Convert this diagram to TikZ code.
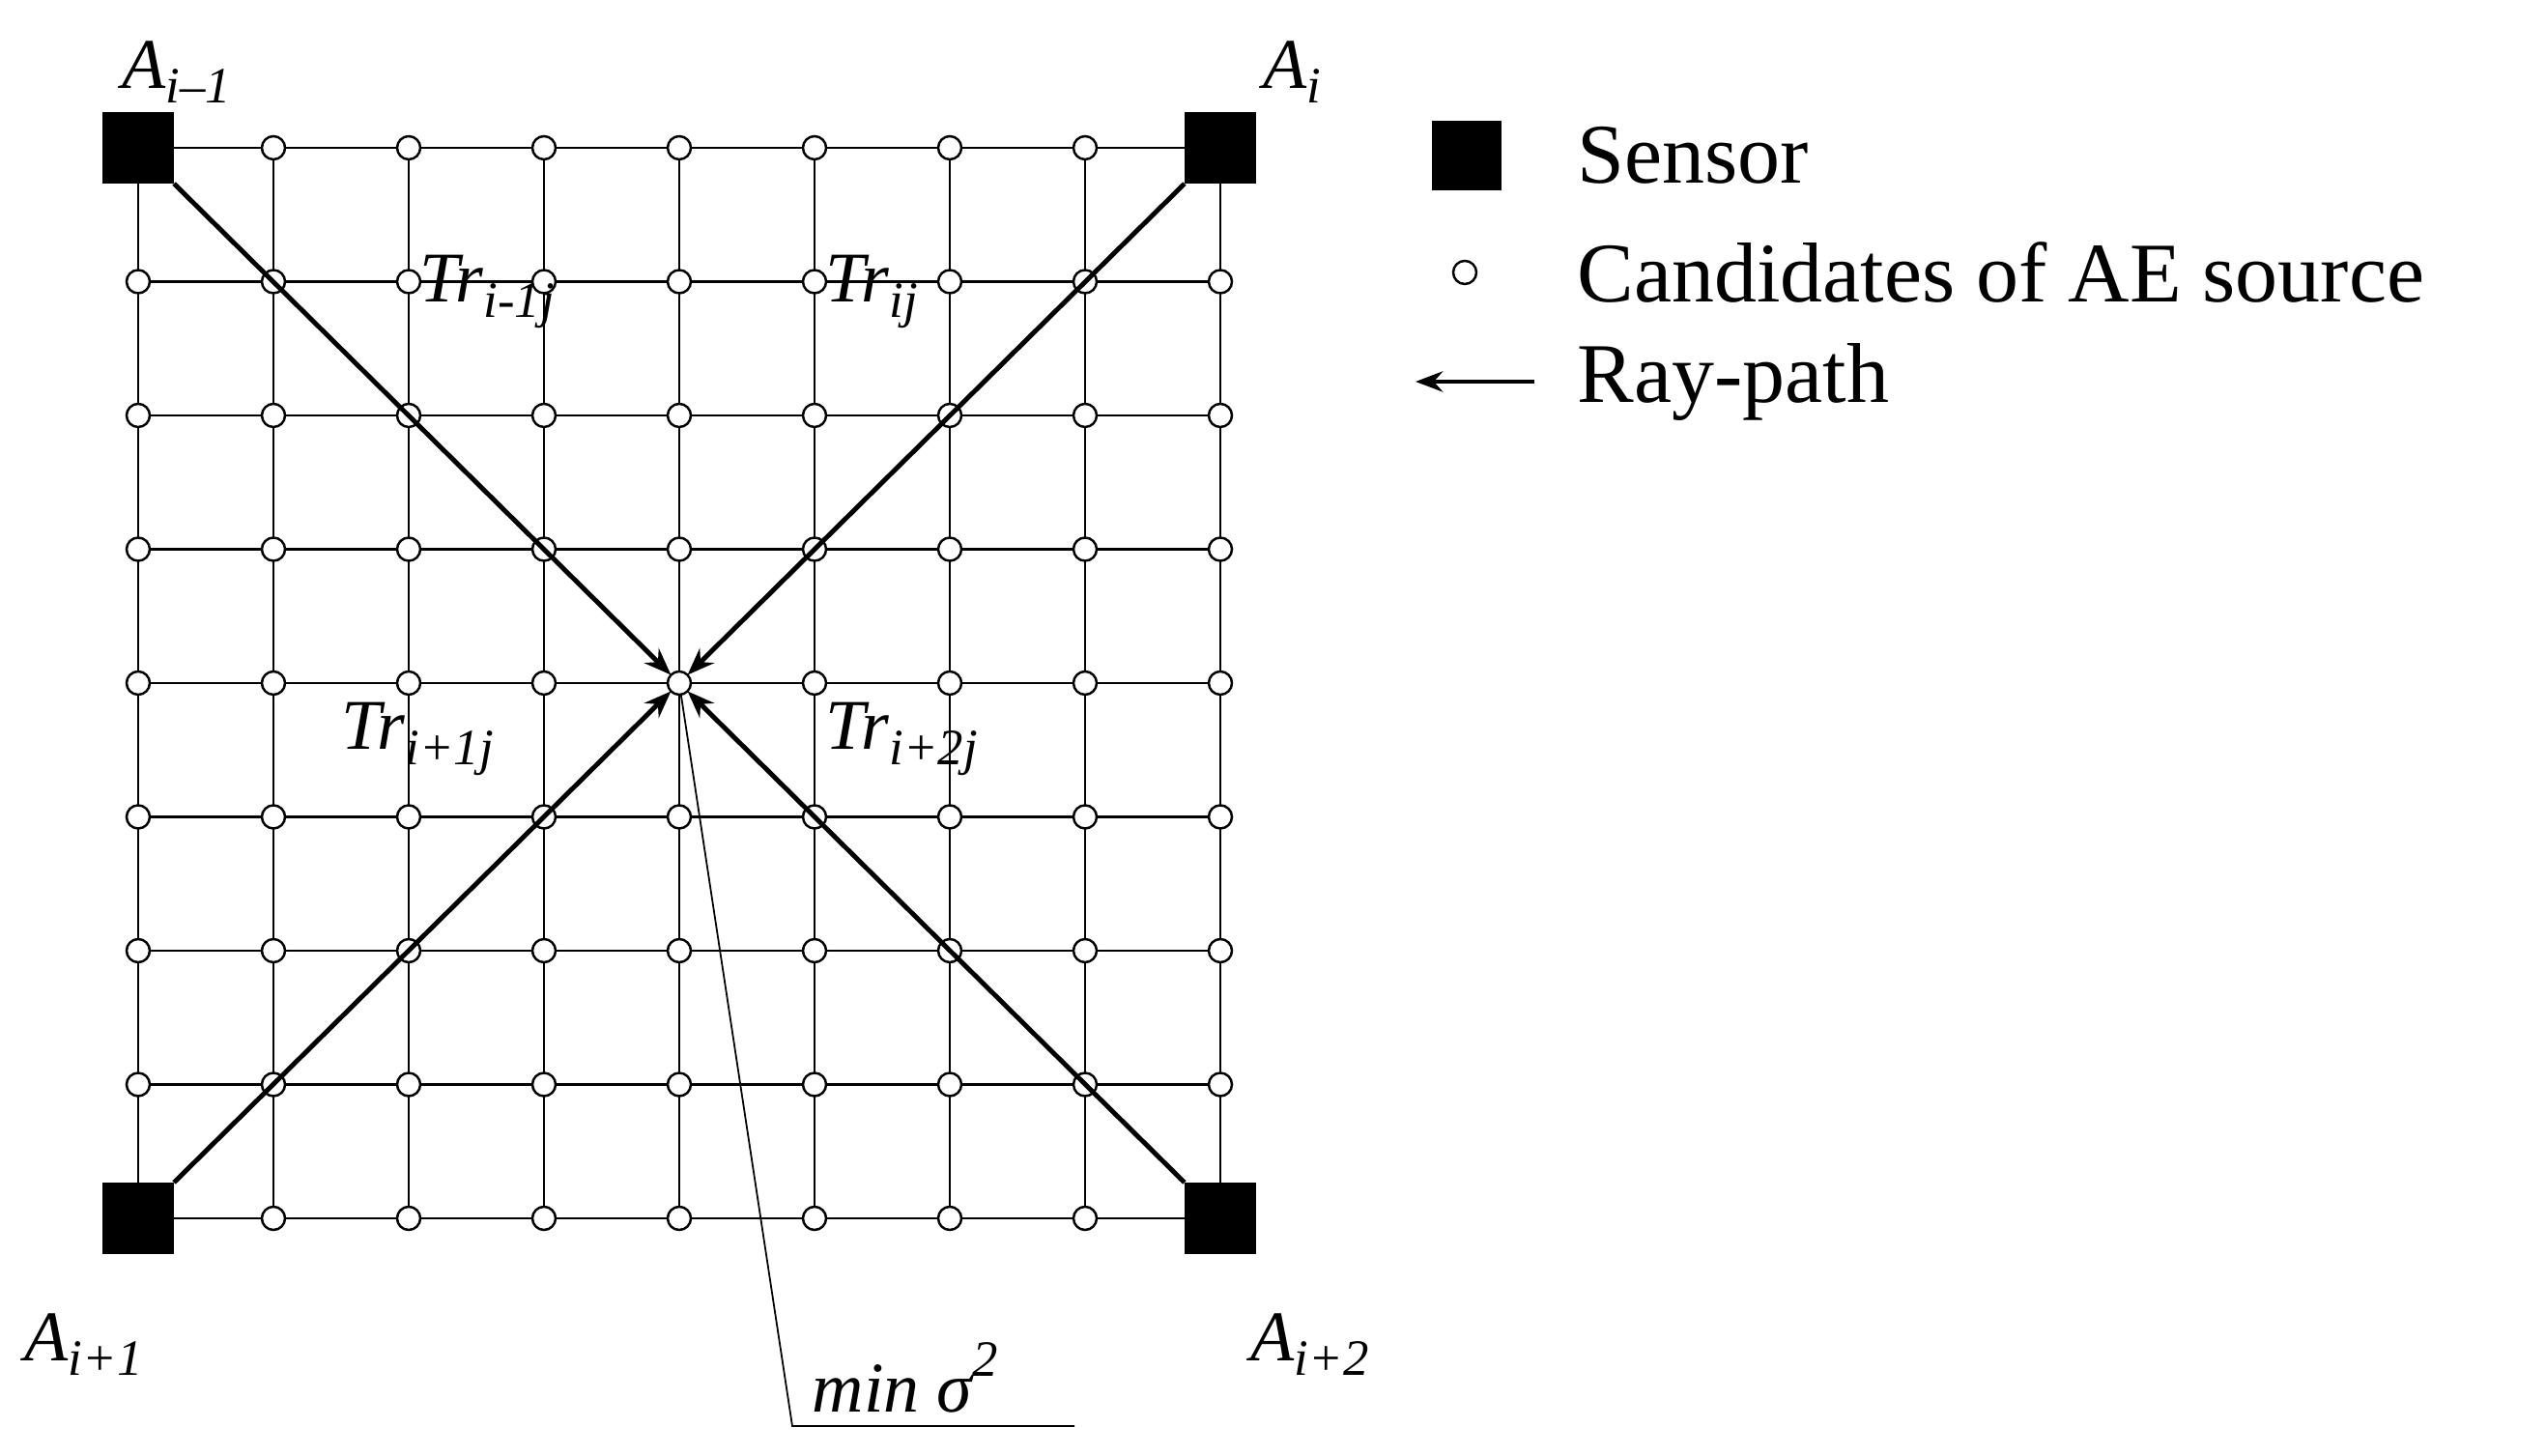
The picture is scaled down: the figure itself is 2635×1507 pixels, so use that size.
\documentclass[tikz,border=0pt]{standalone}
\usepackage{fontspec}
\setmainfont{Liberation Serif}
\usetikzlibrary{arrows.meta}
\newcommand\mysub[1]{\raisebox{-0.45ex}{\fontsize{15}{15}\selectfont #1}}
\begin{document}
\begin{tikzpicture}[x=0.01cm,y=-0.01cm,
  cand/.style={circle,draw,line width=0.7pt,fill=white,minimum size=0.24cm,inner sep=0,outer sep=0},
  sensor/.style={fill=black,minimum size=0.74cm,inner sep=0,outer sep=0},
  ray/.style={line width=1.4pt,-{Stealth[length=8pt,width=6pt]}},
  lab/.style={font=\fontsize{21}{24}\selectfont\itshape,anchor=west,inner sep=0},
  leg/.style={font=\fontsize{25}{28}\selectfont,anchor=west,inner sep=0}]
\useasboundingbox (0,0) rectangle (2635,1507);
\foreach \i in {0,...,8} {
  \draw[line width=0.5pt] (143+\i*140,153) -- (143+\i*140,1261);
  \draw[line width=0.6pt] (143,153+\i*138.5) -- (1263,153+\i*138.5);
}
\foreach \i in {0,...,8} { \foreach \j in {0,...,8} {
  \node[cand] (c\i\j) at (143+\i*140,153+\j*138.5) {};
}}
\node[sensor] (s1) at (c00) {};
\node[sensor] (s2) at (c80) {};
\node[sensor] (s3) at (c08) {};
\node[sensor] (s4) at (c88) {};
\draw[ray] (s1.south east) -- (c44);
\draw[ray] (s2.south west) -- (c44);
\draw[ray] (s3.north east) -- (c44);
\draw[ray] (s4.north west) -- (c44);
\node[lab] (a1) at (126,75) {A\mysub{i–1}};
\node[lab] (a2) at (1307,75) {A\mysub{i}};
\node[lab] (a3) at (25,1392) {A\mysub{i+1}};
\node[lab] (a4) at (1294,1392) {A\mysub{i+2}};
\node[lab] (t1) at (434,302) {Tr\mysub{i-1j}};
\node[lab] (t2) at (854,302) {Tr\mysub{ij}};
\node[lab] (t3) at (353,765) {Tr\mysub{i+1j}};
\node[lab] (t4) at (854,765) {Tr\mysub{i+2j}};
\node[lab,anchor=base west] (m) at (840,1462) {min σ\raisebox{1.1ex}{\fontsize{15}{15}\selectfont 2}};
\coordinate (u1) at (820,1476);
\coordinate (u2) at (1112,1476);
\draw[line width=0.5pt] (c44) -- (u1) -- (u2);
\node[sensor,minimum size=0.72cm] (ls) at (1518,161) {};
\node[cand] (lc) at (1516,282) {};
\coordinate (la1) at (1588,395);
\coordinate (la2) at (1465,395);
\draw[ray] (la1) -- (la2);
\node[leg] (l1) at (1632,161) {Sensor};
\node[leg] (l2) at (1632,282) {Candidates of AE source};
\node[leg] (l3) at (1632,395) {Ray-path};
\end{tikzpicture}
\end{document}
